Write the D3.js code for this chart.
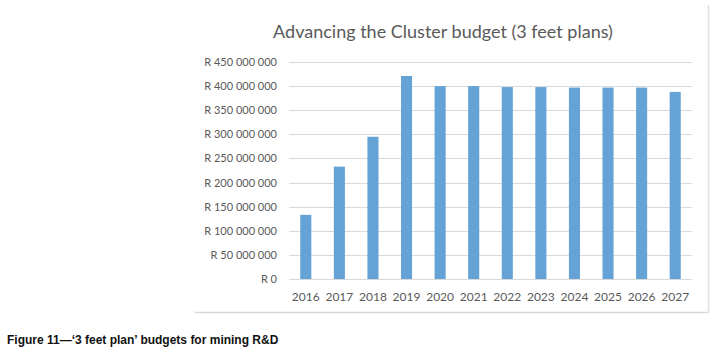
<!DOCTYPE html>
<html>
<head>
<meta charset="utf-8">
<script src="https://cdn.jsdelivr.net/npm/d3@7"></script>
<style>
  html, body { margin: 0; padding: 0; background: #fff; }
  svg { display: block; }
</style>
</head>
<body>
<svg id="chart" width="719" height="356"></svg>
<script>
const categories = ["2016","2017","2018","2019","2020","2021","2022","2023","2024","2025","2026","2027"];
const budget = [133000000, 233000000, 295000000, 421000000, 400000000, 400000000, 398000000, 398000000, 397000000, 397000000, 397000000, 388000000];
const yTicks = [0, 50000000, 100000000, 150000000, 200000000, 250000000, 300000000, 350000000, 400000000, 450000000];
const titleText = "Advancing the Cluster budget (3 feet plans)";
const captionText = "Figure 11\u2014\u20183 feet plan\u2019 budgets for mining R&D";

const svg = d3.select("#chart");
const font = "Lato, 'Open Sans', sans-serif";

// partial frame (bottom and right edges)
svg.append("line").attr("x1", 195).attr("x2", 708.5).attr("y1", 312.5).attr("y2", 312.5)
  .attr("stroke", "#d9d9d9").attr("stroke-width", 1.5);
svg.append("line").attr("x1", 708.5).attr("x2", 708.5).attr("y1", 5).attr("y2", 312.5)
  .attr("stroke", "#e0e0e0").attr("stroke-width", 1.5);

const plot = {left: 289, right: 692, top: 62, bottom: 279};
const x = d3.scaleBand().domain(categories).range([plot.left, plot.right]).paddingInner(0.67).paddingOuter(0.335);
const y = d3.scaleLinear().domain([0, 450000000]).range([plot.bottom, plot.top]);

const fmt = v => "R " + d3.format(",")(v).replace(/,/g, " ");

// gridlines
svg.append("g").selectAll("line").data(yTicks).join("line")
  .attr("x1", plot.left).attr("x2", plot.right)
  .attr("y1", d => Math.round(y(d)) + 0.5).attr("y2", d => Math.round(y(d)) + 0.5)
  .attr("stroke", "#d9d9d9").attr("stroke-width", 1);

// y axis labels
const yAxis = d3.axisLeft(y).tickValues(yTicks).tickFormat(fmt).tickSize(0).tickPadding(12);
const gy = svg.append("g").attr("transform", `translate(${plot.left},0)`).call(yAxis);
gy.select(".domain").remove();
gy.selectAll("text").attr("font-family", font).attr("font-size", 11).attr("fill", "#595959");

// bars
svg.append("g").selectAll("rect").data(budget).join("rect")
  .attr("x", (d, i) => x(categories[i]))
  .attr("width", x.bandwidth())
  .attr("y", d => y(d))
  .attr("height", d => y(0) - y(d))
  .attr("fill", "#65a3d7");

// x axis
const xAxis = d3.axisBottom(x).tickSize(0).tickPadding(13);
const gx = svg.append("g").attr("transform", `translate(0,${plot.bottom})`).call(xAxis);
gx.select(".domain").remove();
gx.selectAll("text").attr("font-family", font).attr("font-size", 12).attr("fill", "#595959");

// title
svg.append("text").attr("x", 443).attr("y", 38).attr("text-anchor", "middle")
  .attr("font-family", font).attr("font-size", 18).attr("fill", "#595959")
  .text(titleText);

// caption
svg.append("text").attr("x", 7).attr("y", 344)
  .attr("font-family", "'Liberation Sans', Arial, sans-serif").attr("font-weight", "bold")
  .attr("font-size", 12).attr("fill", "#111")
  .text(captionText);
</script>
</body>
</html>
